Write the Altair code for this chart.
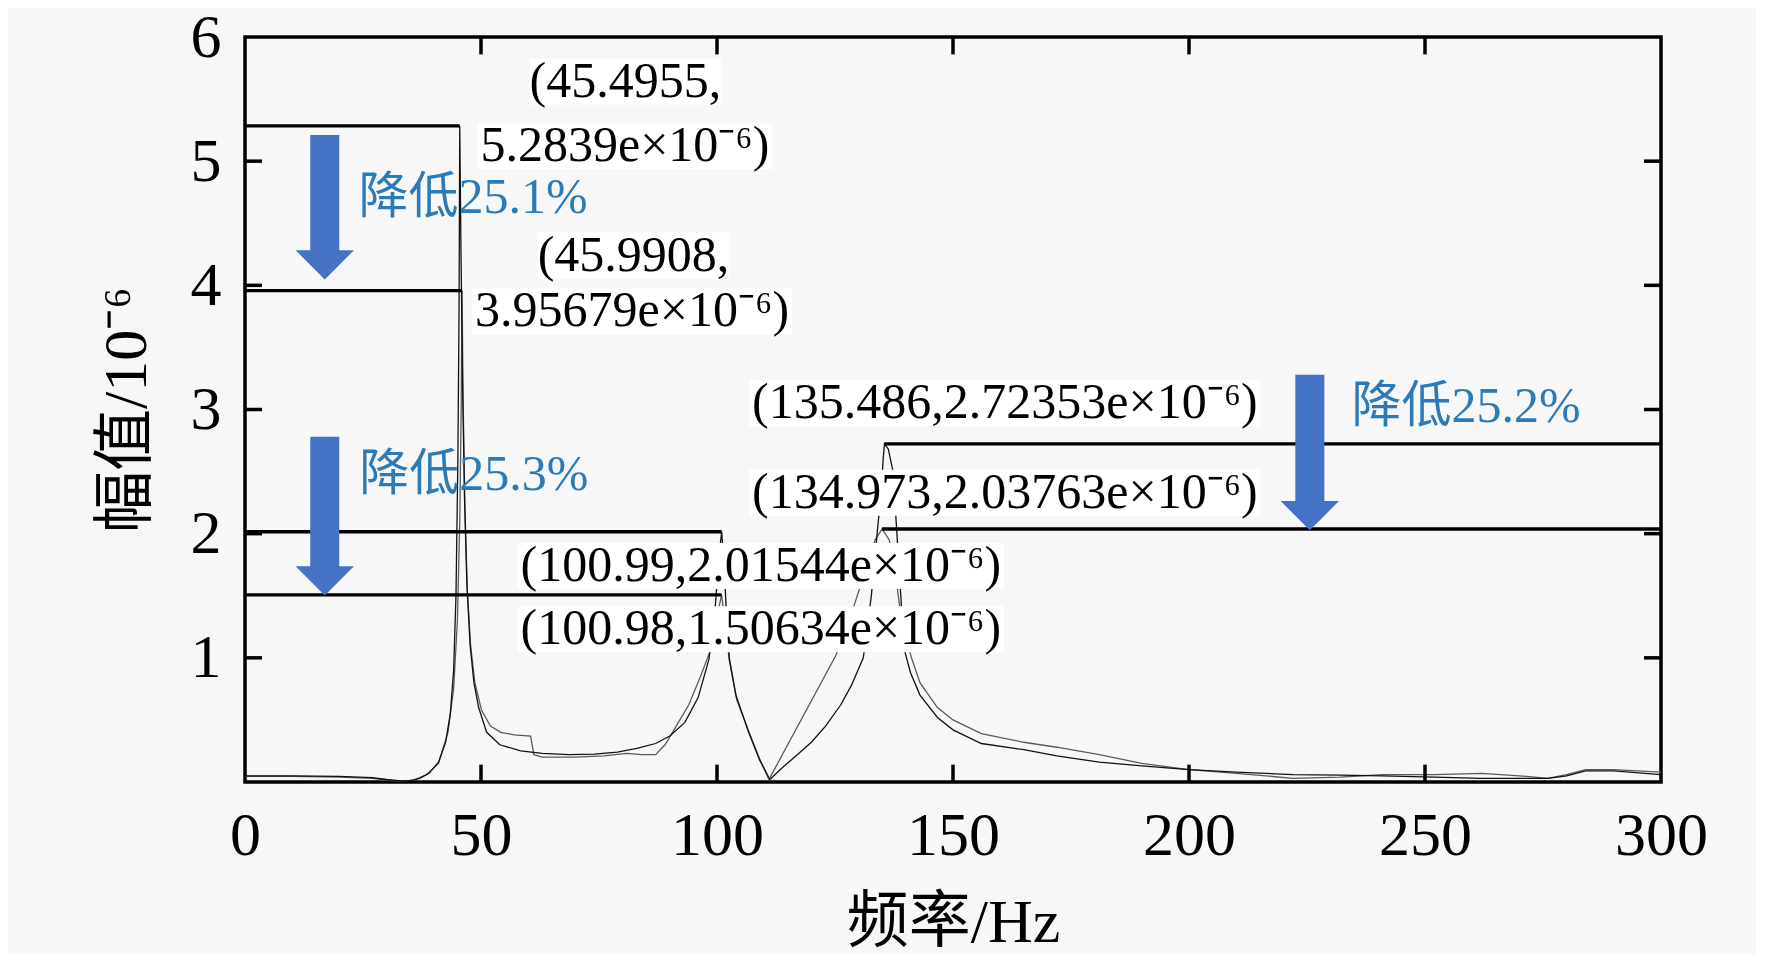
import altair as alt
import pandas as pd

FONT = "Liberation Serif, Noto Sans CJK SC, serif"

# ---- curve A (higher peaks) ----
xa = [0, 10, 20, 27, 30, 33, 35, 37, 39, 41,
      42.5, 43.5, 44.2, 44.7, 45.1, 45.35, 45.4955, 45.75, 46.1, 46.5,
      47.0, 47.7, 48.5, 49.5, 51.2, 54, 58.4, 63, 68.6, 74,
      78.9, 83, 87, 90, 93.2, 96, 98.3, 99.6, 100.5, 100.99,
      101.5, 102.0, 102.6, 104.0, 106.7, 109.0, 111.2, 114, 117, 120,
      123, 126.2, 128.5, 131, 132.7, 133.8, 134.8, 135.2, 135.486, 136.3,
      137.3, 138.2, 139.1, 139.8, 141, 143, 146.7, 150, 156, 165,
      172, 181, 190, 200, 210, 222, 232, 241, 252, 262,
      270, 276, 280, 284, 290, 300]
ya = [0.05, 0.05, 0.045, 0.035, 0.02, 0.008, 0.01, 0.03, 0.07, 0.16,
      0.32, 0.55, 0.9, 1.5, 2.6, 3.8, 5.2839, 4.3, 3.2, 2.3,
      1.6, 1.1, 0.8, 0.6, 0.4, 0.3, 0.25, 0.23, 0.22, 0.225,
      0.24, 0.27, 0.31, 0.37, 0.48, 0.68, 0.99, 1.4, 1.85, 2.01544,
      1.75, 1.35, 1.0, 0.7, 0.40, 0.18, 0.02, 0.12, 0.22, 0.32,
      0.45, 0.62, 0.78, 1.0, 1.5, 1.95, 2.35, 2.6, 2.72353, 2.68,
      2.5, 1.95, 1.4, 1.05, 0.88, 0.7, 0.52, 0.42, 0.31, 0.26,
      0.21, 0.16, 0.13, 0.10, 0.08, 0.06, 0.055, 0.05, 0.04, 0.03,
      0.03, 0.03, 0.05, 0.09, 0.09, 0.06]

# ---- curve B (reduced peaks) ----
xb = [0, 10, 20, 27, 31, 33.5, 36, 38.5, 41, 43,
      44.2, 45.0, 45.5, 45.8, 45.9908, 46.2, 46.6, 47.1, 47.8, 48.7,
      50.1, 52, 54.2, 57, 60.5, 61.2, 63, 70, 76, 80.9,
      84, 87, 89, 91.2, 94, 96.5, 98.5, 99.8, 100.98, 101.8,
      102.6, 104.2, 106.7, 109, 111, 125.2, 128, 131, 133.5, 134.973,
      136.5, 137.7, 139.1, 141.2, 143, 146.7, 150, 156, 165, 172,
      181, 190, 200, 210, 222, 232, 241, 252, 262, 270,
      276, 280, 284, 290, 300]
yb = [0.045, 0.045, 0.04, 0.03, 0.012, 0.005, 0.02, 0.06, 0.15, 0.4,
      0.75, 1.3, 2.1, 3.0, 3.95679, 3.1, 2.2, 1.55, 1.1, 0.8,
      0.58, 0.45, 0.40, 0.38, 0.37, 0.22, 0.20, 0.20, 0.21, 0.23,
      0.22, 0.22, 0.30, 0.44, 0.62, 0.85, 1.05, 1.3, 1.50634, 1.25,
      0.98, 0.66, 0.41, 0.19, 0.02, 1.02, 1.3, 1.65, 1.95, 2.03763,
      1.95, 1.7, 1.3, 1.0, 0.8, 0.6, 0.5, 0.39, 0.32, 0.28,
      0.22, 0.15, 0.10, 0.07, 0.03, 0.04, 0.06, 0.06, 0.07, 0.05,
      0.03, 0.06, 0.10, 0.10, 0.08]

# ---- peak marker lines ----
hl_y = [5.2839, 3.95679, 2.01544, 1.50634, 2.72353, 2.03763]
hl_x1 = [0, 0, 0, 0, 135.486, 134.973]
hl_x2 = [45.4955, 45.9908, 100.99, 100.98, 300, 300]

# ---- arrows ----
arr_x = [16.9, 16.9, 225.6]
arr_top = [5.21, 2.78, 3.28]
arr_neck = [4.27, 1.73, 2.26]
arr_tip = [4.06, 1.51, 2.03]

# ---- annotations ----
ann_text = ["(45.4955,", "5.2839e×10⁻⁶)", "(45.9908,", "3.95679e×10⁻⁶)",
            "(135.486,2.72353e×10⁻⁶)", "(134.973,2.03763e×10⁻⁶)",
            "(100.99,2.01544e×10⁻⁶)", "(100.98,1.50634e×10⁻⁶)"]
ann_x = [80.6, 80.5, 82.3, 82.0, 161.0, 161.0, 109.3, 109.3]
ann_y = [5.64, 5.12, 4.24, 3.79, 3.05, 2.33, 1.74, 1.23]

pct_text = ["降低25.1%", "降低25.3%", "降低25.2%"]
pct_x = [48.3, 48.5, 258.7]
pct_y = [4.70, 2.47, 3.02]

# ---- ticks ----
xtick_vals = [50, 100, 150, 200, 250]
ytick_vals = [1, 2, 3, 4, 5]
x_labels = [0, 50, 100, 150, 200, 250, 300]
y_labels = [1, 2, 3, 4, 5, 6]

W, H = 1416, 745
ANN_SIZE = 50
BG = "#F7F7F7"
xscale = alt.Scale(domain=[0, 300], nice=False, zero=False)
yscale = alt.Scale(domain=[0, 6], nice=False, zero=False)

axis_x = alt.Axis(values=x_labels, title="频率/Hz", ticks=False, tickSize=0, domain=False,
                  grid=False, labelFont=FONT, labelFontSize=62, labelColor="black",
                  labelPadding=23, labelFlush=False, titleFont=FONT, titleFontSize=62,
                  titleFontWeight="normal", titleColor="black", titleBaseline="alphabetic",
                  titleY=159, format="d")
axis_y = alt.Axis(values=y_labels, title="幅值/10⁻⁶", ticks=False, tickSize=0, domain=False,
                  grid=False, labelFont=FONT, labelFontSize=62, labelColor="black",
                  labelPadding=24, labelFlush=False, titleFont=FONT, titleFontSize=62,
                  titleFontWeight="normal", titleColor="black", titleBaseline="middle",
                  titleX=-119, format="d")


def X(f):
    return alt.X(f, type="quantitative", scale=xscale, axis=axis_x)


def Y(f):
    return alt.Y(f, type="quantitative", scale=yscale, axis=axis_y)


dfa = pd.DataFrame({"x": xa, "y": ya})
dfb = pd.DataFrame({"x": xb, "y": yb})
line_a = alt.Chart(dfa).mark_line(color="#111111", strokeWidth=1.3, clip=True).encode(
    x=X("x"), y=Y("y"), order="x:Q")
line_b = alt.Chart(dfb).mark_line(color="#5a5a5a", strokeWidth=1.3, clip=True).encode(
    x=X("x"), y=Y("y"), order="x:Q")


# label background boxes (white boxes behind the coordinate labels, as in the figure)
def text_em(s):
    w = 0.0
    for ch in s:
        if ch.isdigit():
            w += 0.5
        elif ch in "()":
            w += 0.333
        elif ch in ",.":
            w += 0.25
        elif ch == "e":
            w += 0.444
        elif ch == "×":
            w += 0.564
        elif ch in "⁻⁶":
            w += 0.3
        else:
            w += 0.6
    return w


dfann = pd.DataFrame({"x": ann_x, "y": ann_y, "t": ann_text})
half_w = dfann["t"].map(text_em) * ANN_SIZE / 2 * 300 / W
half_h = 0.46 * ANN_SIZE * 6 / H
dfbox = pd.DataFrame({"x": dfann["x"] - half_w, "x2": dfann["x"] + half_w,
                      "y": dfann["y"] - half_h, "y2": dfann["y"] + half_h})
boxes = alt.Chart(dfbox).mark_rect(color="#FFFFFF", opacity=1).encode(
    x=X("x"), x2="x2", y=Y("y"), y2="y2")

dfh = pd.DataFrame({"x": hl_x1, "x2": hl_x2, "y": hl_y})
hlines = alt.Chart(dfh).mark_rule(color="black", strokeWidth=3.3).encode(
    x=X("x"), x2="x2", y=Y("y"))

# inward ticks
tick_len_x = 3.6
tick_len_y = 0.14
dft_bx = pd.DataFrame({"x": xtick_vals, "y": [0] * 5, "y2": [tick_len_y] * 5})
dft_tx = pd.DataFrame({"x": xtick_vals, "y": [6] * 5, "y2": [6 - tick_len_y] * 5})
dft_ly = pd.DataFrame({"y": ytick_vals, "x": [0] * 5, "x2": [tick_len_x] * 5})
dft_ry = pd.DataFrame({"y": ytick_vals, "x": [300] * 5, "x2": [300 - tick_len_x] * 5})
tick_kw = dict(color="black", strokeWidth=3.5)
ticks = (alt.Chart(dft_bx).mark_rule(**tick_kw).encode(x=X("x"), y=Y("y"), y2="y2")
         + alt.Chart(dft_tx).mark_rule(**tick_kw).encode(x=X("x"), y=Y("y"), y2="y2")
         + alt.Chart(dft_ly).mark_rule(**tick_kw).encode(y=Y("y"), x=X("x"), x2="x2")
         + alt.Chart(dft_ry).mark_rule(**tick_kw).encode(y=Y("y"), x=X("x"), x2="x2"))

ARROW = "#4472C4"
dfarr = pd.DataFrame({"x": arr_x, "top": arr_top, "neck": arr_neck, "tip": arr_tip})
dfarr["head"] = (dfarr["neck"] + dfarr["tip"]) / 2
shafts = alt.Chart(dfarr).mark_rule(color=ARROW, strokeWidth=29, strokeCap="butt").encode(
    x=X("x"), y=Y("top"), y2="neck")
heads = alt.Chart(dfarr).mark_point(shape="M-1,-0.5L1,-0.5L0,0.5Z", filled=True, size=3400,
                                    color=ARROW, opacity=1, strokeWidth=0).encode(
    x=X("x"), y=Y("head"))

ann = alt.Chart(dfann).mark_text(font=FONT, fontSize=ANN_SIZE, color="black", align="center",
                                 baseline="middle").encode(x=X("x"), y=Y("y"), text="t:N")

dfpct = pd.DataFrame({"x": pct_x, "y": pct_y, "t": pct_text})
pct = alt.Chart(dfpct).mark_text(font=FONT, fontSize=ANN_SIZE, color="#2B7BB9", align="center",
                                 baseline="middle").encode(x=X("x"), y=Y("y"), text="t:N")

chart = alt.layer(line_b, line_a, boxes, hlines, ticks, shafts, heads, ann, pct).properties(
    width=W, height=H,
    autosize=alt.AutoSizeParams(type="none"),
    padding={"left": 237, "top": 29, "right": 95, "bottom": 172},
    background=BG,
).configure_view(stroke="black", strokeWidth=3.5, fill=BG)

chart.save("out.html", embed_options={"renderer": "svg", "actions": False})
